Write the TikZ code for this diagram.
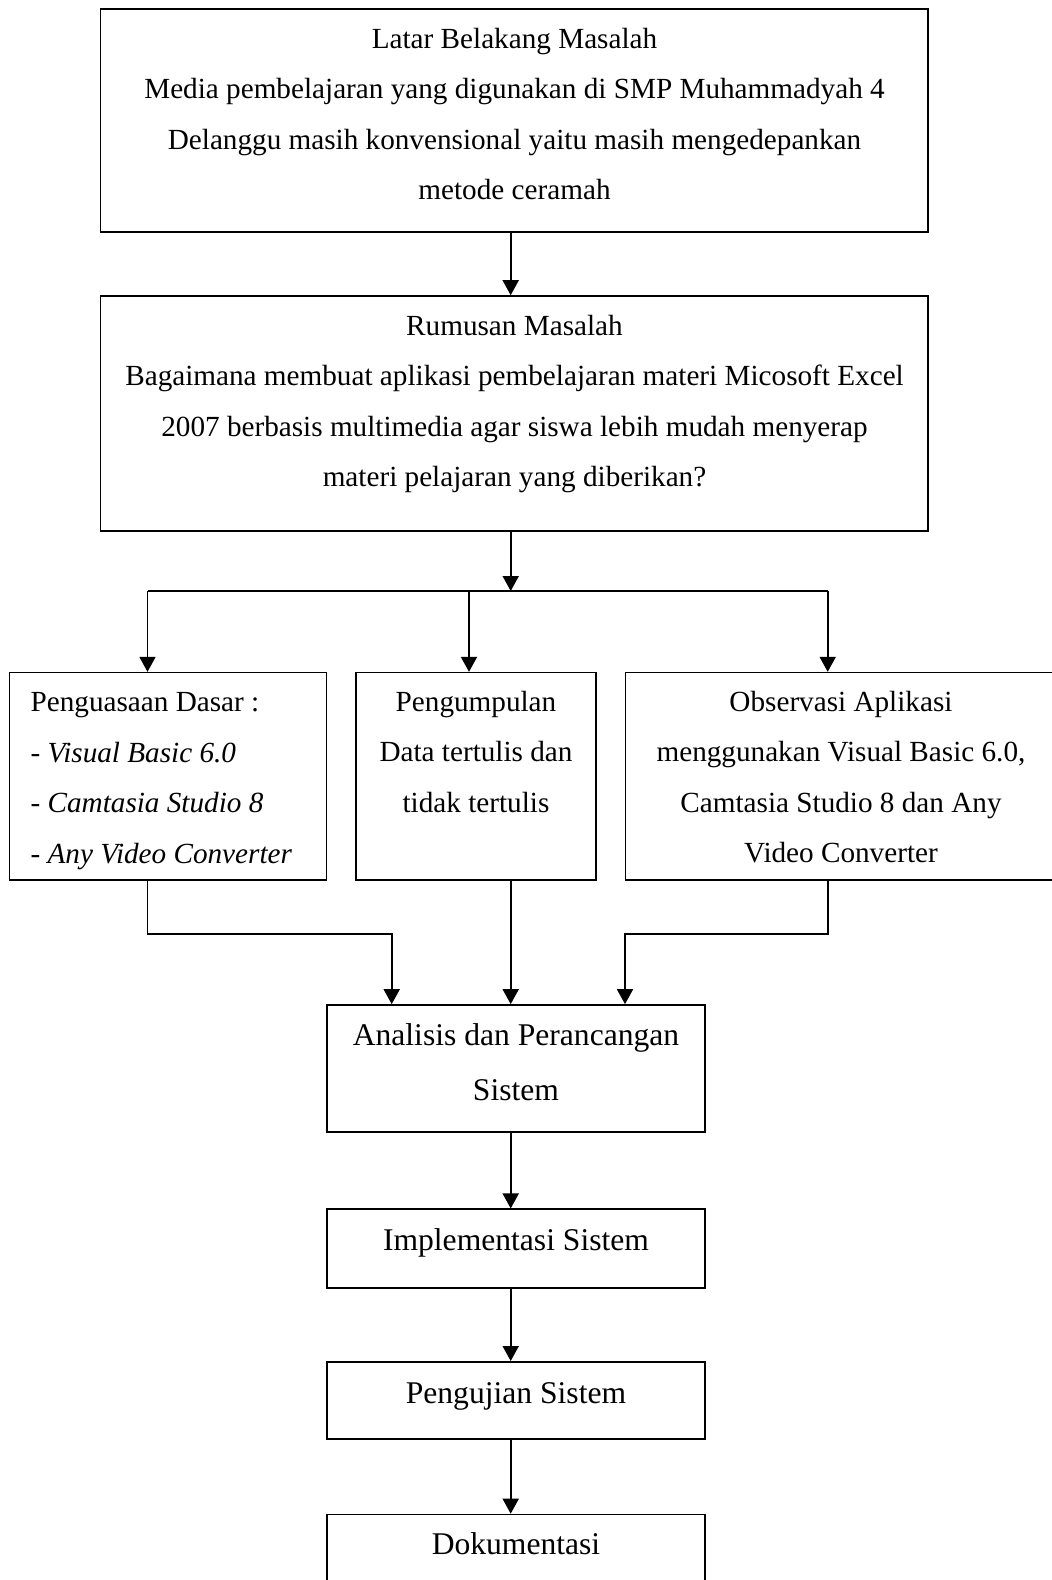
\documentclass[tikz,border=0pt]{standalone}
\usepackage{fontspec}
\setmainfont{Liberation Serif}
\usepackage{tikz}
\usetikzlibrary{arrows.meta}
\tikzset{>={Triangle[width=8pt,length=7.5pt]}}

\begin{document}
\begin{tikzpicture}[x=0.5pt,y=-0.5pt,
  kotak/.style={draw,line width=0.8pt,inner sep=0pt},
  teks/.style={inner sep=0pt,align=center,font=\fontsize{14.6}{25.2}\selectfont},
  teksb/.style={inner sep=0pt,align=center,font=\fontsize{15.8}{27.2}\selectfont},
  panah/.style={->,line width=0.9pt},
  garis/.style={line width=0.9pt}]

\useasboundingbox (0,0) rectangle (1051,1580);

% kotak
\node[kotak,minimum width=413.75pt,minimum height=111.5pt] (latar) at (514.2,120.5) {};
\node[kotak,minimum width=413.75pt,minimum height=117.5pt] (rumusan) at (514.2,413.5) {};
\node[kotak,minimum width=158.5pt,minimum height=103.65pt] (penguasaan) at (167.9,776.3) {};
\node[kotak,minimum width=120pt,minimum height=103.65pt] (pengumpulan) at (476,776.3) {};
\node[kotak,minimum width=217.35pt,minimum height=103.65pt] (observasi) at (842.7,776.3) {};
\node[kotak,minimum width=189.15pt,minimum height=63.55pt] (analisis) at (515.9,1068.5) {};
\node[kotak,minimum width=189.15pt,minimum height=39.45pt] (implementasi) at (515.9,1248.7) {};
\node[kotak,minimum width=189.15pt,minimum height=38.6pt] (pengujian) at (515.9,1400.4) {};
\node[kotak,minimum width=189.15pt,minimum height=52.5pt] (dokumentasi) at (515.9,1567) {};

% teks
\node[teks] (tlatar) at (514.5,114) {Latar Belakang Masalah\\
  Media pembelajaran yang digunakan di SMP Muhammadyah 4\\
  Delanggu masih konvensional yaitu masih mengedepankan\\
  metode ceramah};
\node[teks] (trumusan) at (514.5,404) {Rumusan Masalah\\
  Bagaimana membuat aplikasi pembelajaran materi Micosoft Excel\\
  2007 berbasis multimedia agar siswa lebih mudah menyerap\\
  materi pelajaran yang diberikan?};
\node[teks,align=left,anchor=west] (tpenguasaan) at (30.2,781) {Penguasaan Dasar :\\
  - \textit{Visual Basic 6.0}\\
  - \textit{Camtasia Studio 8}\\
  - \textit{Any Video Converter}};
\node[teks] (tpengumpulan) at (476,752) {Pengumpulan\\Data tertulis dan\\tidak tertulis};
\node[teks] (tobservasi) at (841,777) {Observasi Aplikasi\\
  menggunakan Visual Basic 6.0,\\
  Camtasia Studio 8 dan Any\\
  Video Converter};
\node[teksb] (tanalisis) at (516,1062) {Analisis dan Perancangan\\Sistem};
\node[teksb] (timplementasi) at (516,1243) {Implementasi Sistem};
\node[teksb] (tpengujian) at (516,1396) {Pengujian Sistem};
\node[teksb] (tdokumentasi) at (516,1544) {Dokumentasi};

% panah
\coordinate (cab) at (510.7,591);
\coordinate (xa) at (147.5,591);
\coordinate (xc) at (827.7,591);
\coordinate (xb) at (469,591);
\coordinate (ma) at (391.7,933.8);
\coordinate (mc) at (625,933.8);

\draw[panah] (latar.south -| cab) -- (rumusan.north -| cab);
\draw[panah] (rumusan.south -| cab) -- (cab);
\draw[garis] (xa) -- (xc);
\draw[panah] (xa) -- (xa |- penguasaan.north);
\draw[panah] (xb) -- (xb |- pengumpulan.north);
\draw[panah] (xc) -- (xc |- observasi.north);

\draw[panah] (penguasaan.south -| xa) |- (ma) -- (ma |- analisis.north);
\draw[panah] (pengumpulan.south -| cab) -- (analisis.north -| cab);
\draw[panah] (observasi.south -| xc) |- (mc) -- (mc |- analisis.north);

\draw[panah] (analisis.south -| cab) -- (implementasi.north -| cab);
\draw[panah] (implementasi.south -| cab) -- (pengujian.north -| cab);
\draw[panah] (pengujian.south -| cab) -- (dokumentasi.north -| cab);

\end{tikzpicture}
\end{document}
